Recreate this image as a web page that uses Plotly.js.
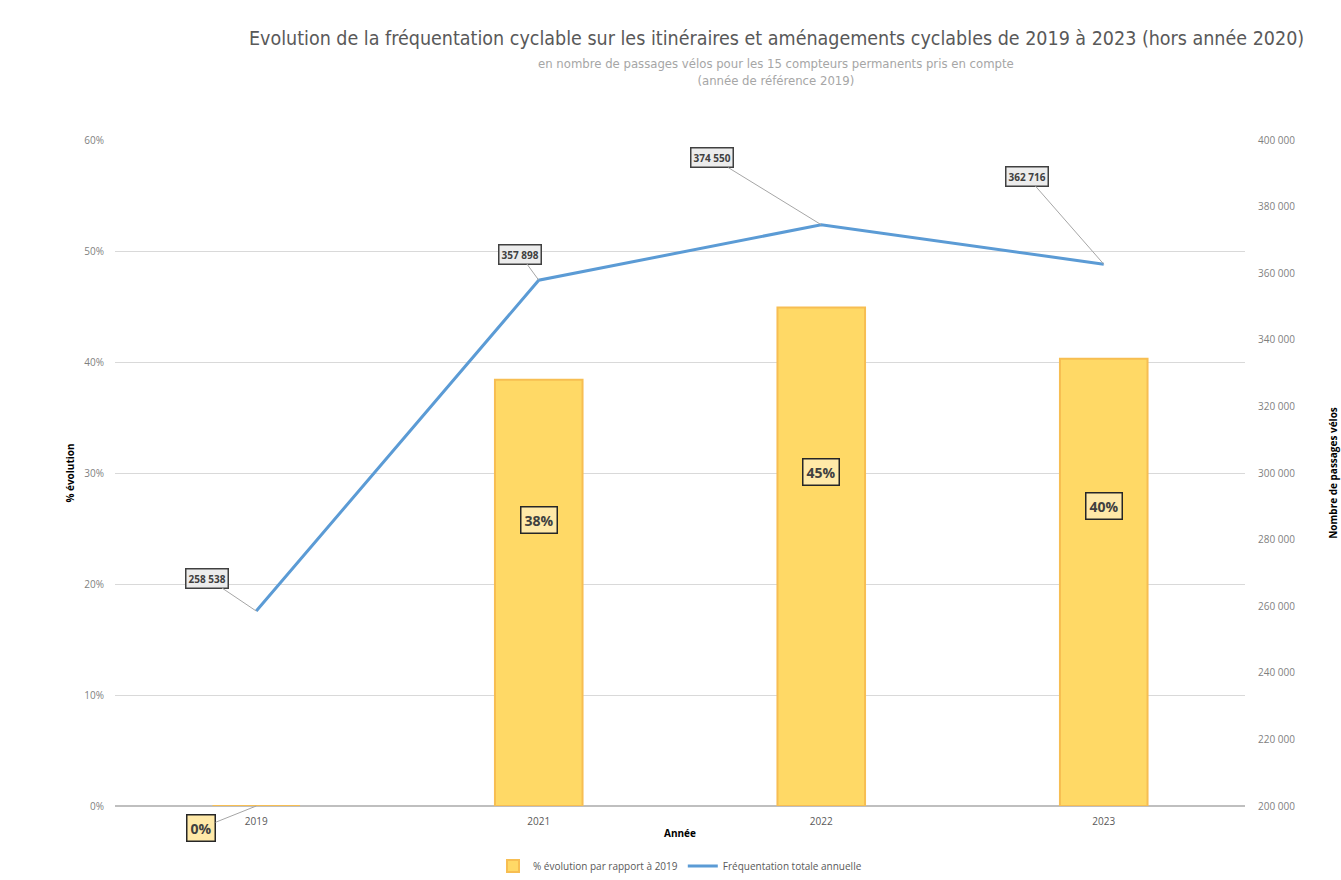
<!DOCTYPE html>
<html>
<head>
<meta charset="utf-8">
<script src="https://cdn.plot.ly/plotly-3.0.1.min.js"></script>
<style>html,body{margin:0;padding:0;background:#fff;}#chart{width:1341px;height:880px;}</style>
</head>
<body>
<div id="chart"></div>
<script>
const years = ['2019', '2021', '2022', '2023'];
const evolution = [0, 0.384, 0.449, 0.403];
const evolutionLabels = ['0%', '38%', '45%', '40%'];
const frequentation = [258538, 357898, 374550, 362716];
const frequentationLabels = ['258 538', '357 898', '374 550', '362 716'];
const lineLabelOffsets = [[-49, -33], [-19, -26], [-109, -67], [-77, -88]];

const bars = {
  type: 'bar', x: years, y: evolution, name: '% évolution par rapport à 2019',
  width: 0.31,
  marker: {color: '#FFD966', line: {color: '#F7BE52', width: 2}},
  hoverinfo: 'skip'
};
const line = {
  type: 'scatter', mode: 'lines', x: years, y: frequentation, yaxis: 'y2',
  name: 'Fréquentation totale annuelle',
  line: {color: '#5B9BD5', width: 3},
  hoverinfo: 'skip'
};

const annotations = [];
years.forEach((yr, i) => {
  annotations.push({
    xref: 'x', yref: 'y2', x: i, y: frequentation[i],
    text: '<b>' + frequentationLabels[i] + '</b>',
    showarrow: true, arrowhead: 0, arrowwidth: 1, arrowcolor: '#a6a6a6',
    ax: lineLabelOffsets[i][0], ay: lineLabelOffsets[i][1],
    bgcolor: '#ececec', bordercolor: '#404040', borderwidth: 1.5, borderpad: 2,
    font: {family: 'Open Sans, sans-serif', size: 10, color: '#404040'}
  });
  if (evolution[i] > 0) {
    annotations.push({
      xref: 'x', yref: 'y', x: i, y: evolution[i] * 0.67,
      text: '<b>' + evolutionLabels[i] + '</b>', showarrow: false,
      bgcolor: '#FFE9A8', bordercolor: '#262626', borderwidth: 1.5, borderpad: 3,
      font: {family: 'Open Sans, sans-serif', size: 14, color: '#404040'}
    });
  } else {
    annotations.push({
      xref: 'x', yref: 'y', x: i, y: evolution[i],
      text: '<b>' + evolutionLabels[i] + '</b>',
      showarrow: true, arrowhead: 0, arrowwidth: 1, arrowcolor: '#a6a6a6',
      ax: -55, ay: 22,
      bgcolor: '#FFE9A8', bordercolor: '#262626', borderwidth: 1.5, borderpad: 3,
      font: {family: 'Open Sans, sans-serif', size: 14, color: '#404040'}
    });
  }
});

annotations.push({
  xref: 'paper', yref: 'paper', x: 0.585, y: 1.0 + (140 - 38) / 666, yanchor: 'middle',
  text: 'Evolution de la fréquentation cyclable sur les itinéraires et aménagements cyclables de 2019 à 2023 (hors année 2020)',
  showarrow: false,
  font: {family: 'DejaVu Sans Condensed, sans-serif', size: 19.5, color: '#595959'}
});
annotations.push({
  xref: 'paper', yref: 'paper', x: 0.585, y: 1.0 + (140 - 72) / 666, yanchor: 'middle',
  text: 'en nombre de passages vélos pour les 15 compteurs permanents pris en compte<br>(année de référence 2019)',
  showarrow: false,
  font: {family: 'DejaVu Sans Condensed, sans-serif', size: 13, color: '#a6a6a6'}
});

const layout = {
  width: 1341, height: 880,
  margin: {l: 115, r: 96, t: 140, b: 74, autoexpand: false},
  paper_bgcolor: '#ffffff', plot_bgcolor: '#ffffff',
  separators: ', ',
  showlegend: true,
  legend: {orientation: 'h', x: 0.5, xanchor: 'center', yref: 'container', y: 14 / 880, yanchor: 'middle',
    font: {family: 'Open Sans, sans-serif', size: 10, color: '#595959'}},
  xaxis: {
    type: 'category', categoryorder: 'array', categoryarray: years,
    range: [-0.5, 3.5], autorange: false, automargin: false,
    showgrid: false, showline: false, zeroline: false,
    ticklabelstandoff: 8,
    tickfont: {family: 'Open Sans, sans-serif', size: 10, color: '#595959'},
    title: {text: '<b>Année</b>', standoff: 2, font: {family: 'Open Sans, sans-serif', size: 10, color: '#000'}}
  },
  yaxis: {
    range: [0, 0.6], autorange: false, dtick: 0.1, tickformat: '.0%', automargin: false,
    showgrid: true, gridcolor: '#d9d9d9', gridwidth: 1,
    zeroline: true, zerolinecolor: '#bfbfbf', zerolinewidth: 1.5,
    ticklabelstandoff: 10,
    tickfont: {family: 'Open Sans, sans-serif', size: 10, color: '#7f7f7f'},
    title: {text: '<b>% évolution</b>', standoff: 7, font: {family: 'Open Sans, sans-serif', size: 10, color: '#000'}}
  },
  yaxis2: {
    overlaying: 'y', side: 'right', range: [200000, 400000], autorange: false, dtick: 20000,
    tickformat: ',d', showgrid: false, zeroline: false, automargin: false,
    ticklabelstandoff: 12,
    tickfont: {family: 'Open Sans, sans-serif', size: 10, color: '#7f7f7f'},
    title: {text: '<b>Nombre de passages vélos</b>', standoff: 35, font: {family: 'Open Sans, sans-serif', size: 10, color: '#000'}}
  },
  annotations: annotations
};

Plotly.newPlot('chart', [bars, line], layout, {displayModeBar: false, staticPlot: true});
</script>
</body>
</html>
